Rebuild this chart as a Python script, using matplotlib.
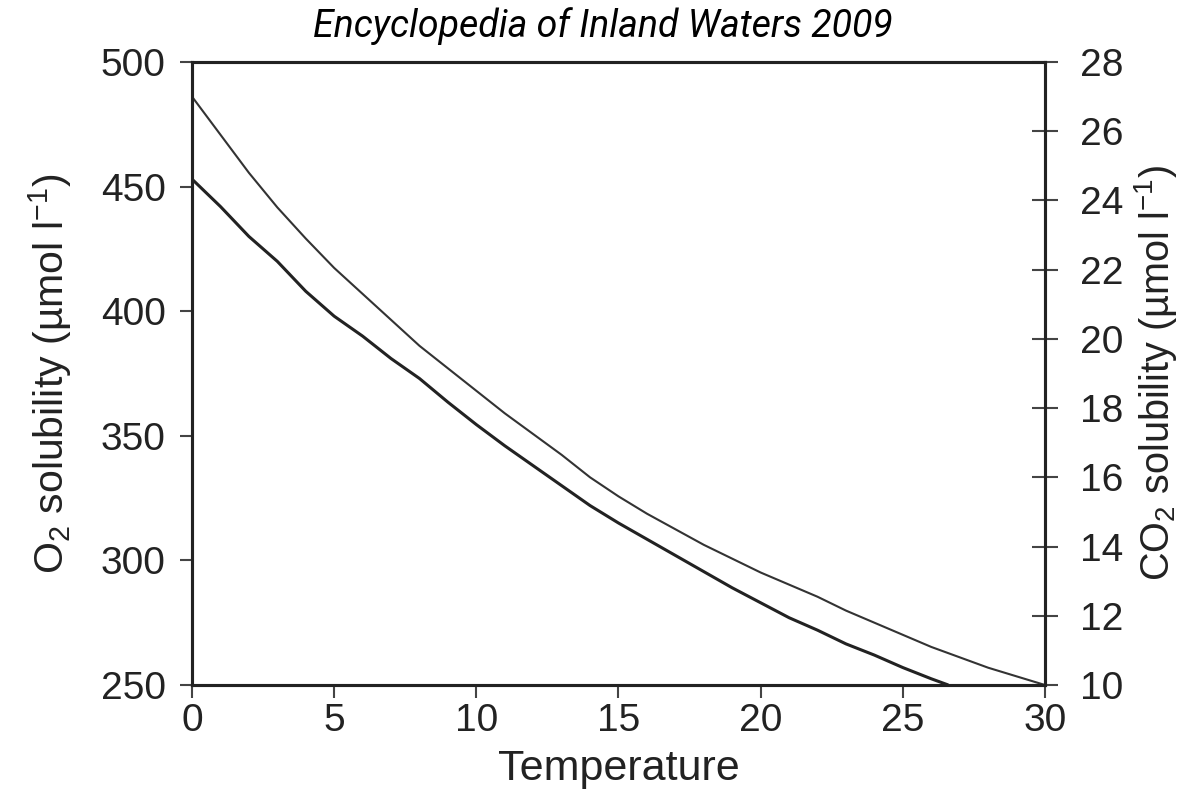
import matplotlib
matplotlib.use("Agg")
import matplotlib.pyplot as plt

# Температура, °C
temp = [0, 1, 2, 3, 4, 5, 6, 7, 8, 9, 10, 11, 12, 13, 14, 15, 16, 17, 18, 19,
        20, 21, 22, 23, 24, 25, 26, 26.6]
# растворимость O2, мкмоль/л (левая ось)
o2 = [453, 442, 430, 420, 408, 398, 390, 381, 373, 363.5, 354.5, 346, 338, 330,
      322, 315, 308.5, 302, 295.5, 289, 283, 277, 272, 266.5, 262, 257, 252.5, 250]

temp_co2 = list(range(0, 31))
# растворимость CO2, мкмоль/л (правая ось)
co2 = [27.0, 25.9, 24.8, 23.8, 22.9, 22.05, 21.3, 20.55, 19.8, 19.15, 18.5,
       17.85, 17.25, 16.65, 16.0, 15.45, 14.95, 14.5, 14.05, 13.65, 13.25,
       12.9, 12.55, 12.15, 11.8, 11.45, 11.1, 10.8, 10.5, 10.25, 10.0]

x_ticks = [0, 5, 10, 15, 20, 25, 30]
left_ticks = [250, 300, 350, 400, 450, 500]
right_ticks = [10, 12, 14, 16, 18, 20, 22, 24, 26, 28]

plt.rcParams["font.family"] = ["Liberation Sans", "DejaVu Sans"]
plt.rcParams["mathtext.fontset"] = "custom"
plt.rcParams["mathtext.rm"] = "Liberation Sans"
plt.rcParams["mathtext.it"] = "Liberation Sans:italic"

ink = "#222222"
fs = 28

fig = plt.figure(figsize=(11.86, 7.98), dpi=100)
ax = fig.add_axes([0.1619, 0.1416, 0.8811 - 0.1619, 0.9223 - 0.1416])

ax.plot(temp, o2, color=ink, lw=2.2, solid_capstyle="butt")
ax.set_xlim(0, 30)
ax.set_ylim(250, 500)
ax.set_xticks(x_ticks)
ax.set_yticks(left_ticks)
ax.tick_params(axis="both", direction="out", length=9, width=1.5, color="#444444",
               labelsize=fs, labelcolor=ink, pad=4)
ax.tick_params(axis="y", pad=10)
ax.set_xlabel("Temperature", fontsize=31, color=ink, labelpad=7)
ax.set_ylabel("O$_2$ solubility (µmol l$^{-1}$)", fontsize=29.5, color=ink, labelpad=19)
for s in ax.spines.values():
    s.set_linewidth(2.2)
    s.set_color(ink)

ax2 = ax.twinx()
ax2.plot(temp_co2, co2, color="#333333", lw=1.5)
ax2.set_ylim(10, 28)
ax2.set_yticks(right_ticks)
ax2.tick_params(axis="y", direction="inout", length=19, width=1.5, color="#444444",
                labelsize=fs, labelcolor=ink, pad=16)
ax2.set_ylabel("CO$_2$ solubility (µmol l$^{-1}$)", fontsize=28.5, color=ink, labelpad=6)
for s in ax2.spines.values():
    s.set_linewidth(2.2)
    s.set_color(ink)

fig.text(0.508, 0.967, "Encyclopedia of Inland Waters 2009", family=["Roboto", "DejaVu Sans"],
         style="italic", fontsize=27, ha="center", va="center", color="black")

fig.savefig("out.png", dpi=100)
